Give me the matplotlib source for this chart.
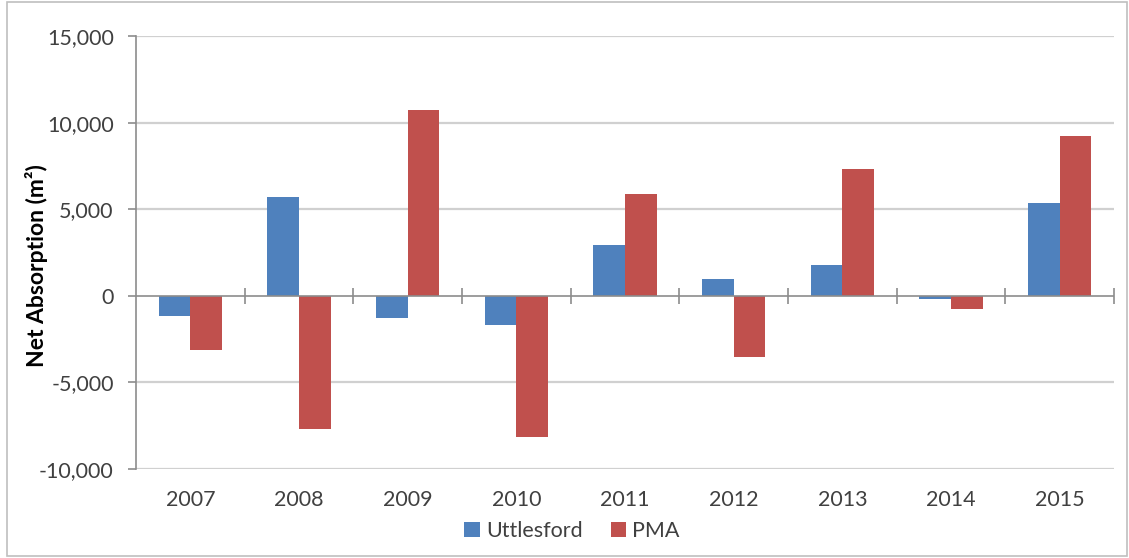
import matplotlib
matplotlib.use("Agg")
import matplotlib.pyplot as plt
from matplotlib.patches import Rectangle
from matplotlib.ticker import FuncFormatter
import numpy as np

years = ["2007", "2008", "2009", "2010", "2011", "2012", "2013", "2014", "2015"]
uttlesford = [-1150, 5700, -1300, -1680, 2930, 960, 1770, -170, 5340]
pma = [-3120, -7700, 10750, -8170, 5900, -3550, 7320, -750, 9210]

series_names = ["Uttlesford", "PMA"]
colors = ["#4F81BD", "#C0504D"]
y_ticks = [-10000, -5000, 0, 5000, 10000, 15000]

plt.rcParams["font.family"] = ["Lato", "DejaVu Sans"]

W, H = 1129, 558
fig = plt.figure(figsize=(W / 100, H / 100), dpi=100)

# outer chart frame
fig.patches.append(Rectangle((7 / W, 2 / H), (W - 9) / W, (H - 4) / H,
                             transform=fig.transFigure, fill=False,
                             edgecolor="#BFBFBF", linewidth=1.2))

ax = fig.add_axes([136 / W, (H - 469) / H, (1114 - 136) / W, (469 - 36) / H])

x = np.arange(len(years))
bw = 0.29
ax.bar(x - bw / 2, uttlesford, width=bw, color=colors[0], label=series_names[0], zorder=3)
ax.bar(x + bw / 2, pma, width=bw, color=colors[1], label=series_names[1], zorder=3)

ax.set_xlim(-0.5, len(years) - 0.5)
ax.set_ylim(-10000, 15000)

# horizontal gridlines
for v in y_ticks:
    if v != 0:
        ax.axhline(v, color="#D0D0D0", linewidth=1.6, zorder=1)

# category axis along zero with crossing tick marks
ax.axhline(0, color="#8C8C8C", linewidth=1.2, zorder=4)
bounds = np.arange(0.5, len(years) + 0.5, 1.0)
ax.plot(bounds, np.zeros_like(bounds), linestyle="none", marker="|",
        markersize=11, markeredgewidth=1.2, color="#8C8C8C", zorder=4,
        clip_on=False)

for s in ["top", "right", "bottom"]:
    ax.spines[s].set_visible(False)
ax.spines["left"].set_color("#8C8C8C")
ax.spines["left"].set_linewidth(1.2)

ax.set_yticks(y_ticks)
ax.yaxis.set_major_formatter(FuncFormatter(lambda v, p: f"{int(v):,}"))
ax.tick_params(axis="y", length=6, width=1.2, color="#8C8C8C", pad=10,
               labelsize=15.5, labelcolor="#404040")

ax.set_xticks(x)
ax.set_xticklabels(years)
ax.tick_params(axis="x", length=0, pad=15, labelsize=15.5, labelcolor="#404040")

ax.set_ylabel("Net Absorption (m²)", fontsize=16.5, fontweight="bold",
              color="black")
ax.yaxis.set_label_coords(-(136 - 48) / (1114 - 136), (469 - 266) / (469 - 36))

fig.legend(loc="center", bbox_to_anchor=(572 / W, 1 - 531 / H), ncol=2,
           frameon=False, fontsize=15.5, handlelength=0.7, handleheight=0.7,
           handletextpad=0.3, columnspacing=1.3, labelcolor="#404040")

fig.savefig("out.png", dpi=100)
